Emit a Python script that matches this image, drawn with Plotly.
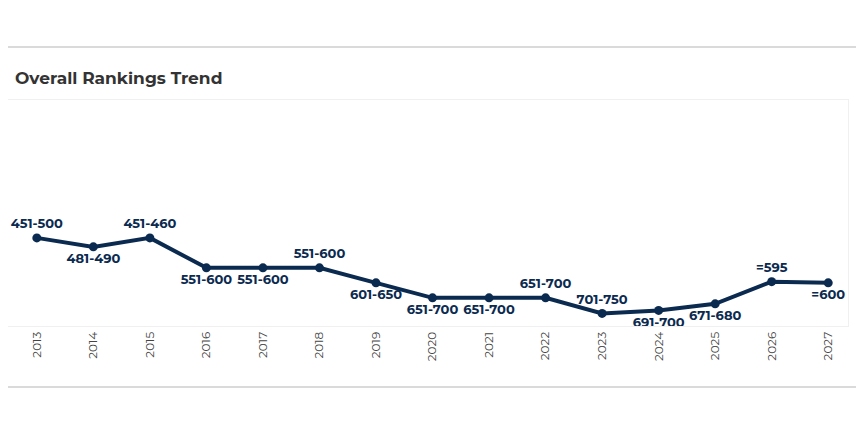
import plotly.graph_objects as go

years = [str(y) for y in range(2013, 2028)]
rank_labels = ["451-500", "481-490", "451-460", "551-600", "551-600", "551-600", "601-650",
               "651-700", "651-700", "651-700", "701-750", "691-700", "671-680", "=595", "=600"]
# plotted position (approximate rank level)
rank_pos = [475, 490, 475, 525, 525, 525, 550, 575, 575, 575, 601, 596, 585, 548, 550]
label_pos = ["top center", "bottom center", "top center", "bottom center", "bottom center",
             "top center", "bottom center", "bottom center", "bottom center", "top center",
             "top center", "bottom center", "bottom center", "top center", "bottom center"]

navy = "#0b2a4f"
# the page body adds an 8px margin, so the figure is drawn 16px smaller
W, H = 848, 429
L, R, T, B = 0, 8, 92, 111
pw, ph = W - L - R, H - T - B

fig = go.Figure()
fig.add_trace(go.Scatter(
    x=list(range(2013, 2028)), y=rank_pos, mode="lines+markers+text",
    text=rank_labels, textposition=label_pos,
    textfont=dict(family="Montserrat, Inter, sans-serif", size=13, color=navy, weight="bold"),
    line=dict(color=navy, width=4), marker=dict(color=navy, size=9),
    cliponaxis=False, hoverinfo="skip"
))

# page separator lines
for yy in (39, 379):
    yp = (H - B - yy) / ph
    fig.add_shape(type="line", xref="paper", yref="paper", x0=0, x1=W / pw, y0=yp, y1=yp,
                  line=dict(color="#b5b5b5", width=1))
fig.add_annotation(text="<b>Overall Rankings Trend</b>", x=5 / pw, y=(H - B - 70) / ph,
                   xref="paper", yref="paper", xanchor="left", yanchor="middle", showarrow=False,
                   font=dict(family="Montserrat, Inter, sans-serif", size=17, color="#333333"))

fig.update_layout(
    width=W, height=H, margin=dict(l=L, r=R, t=T, b=B),
    plot_bgcolor="white", paper_bgcolor="white", showlegend=False,
)
fig.update_xaxes(range=[2012.49, 2027.35], tickmode="array", tickvals=list(range(2013, 2028)),
                 ticktext=years, tickangle=-90, showgrid=False, zeroline=False,
                 tickfont=dict(family="Montserrat, Inter, sans-serif", size=12, color="#444444"),
                 showline=True, linecolor="#f0f0f0", mirror=True)
fig.update_yaxes(range=[622, 245], showticklabels=False, showgrid=False, zeroline=False,
                 showline=True, linecolor="#f0f0f0", mirror=True)

fig.write_html("out.html")
